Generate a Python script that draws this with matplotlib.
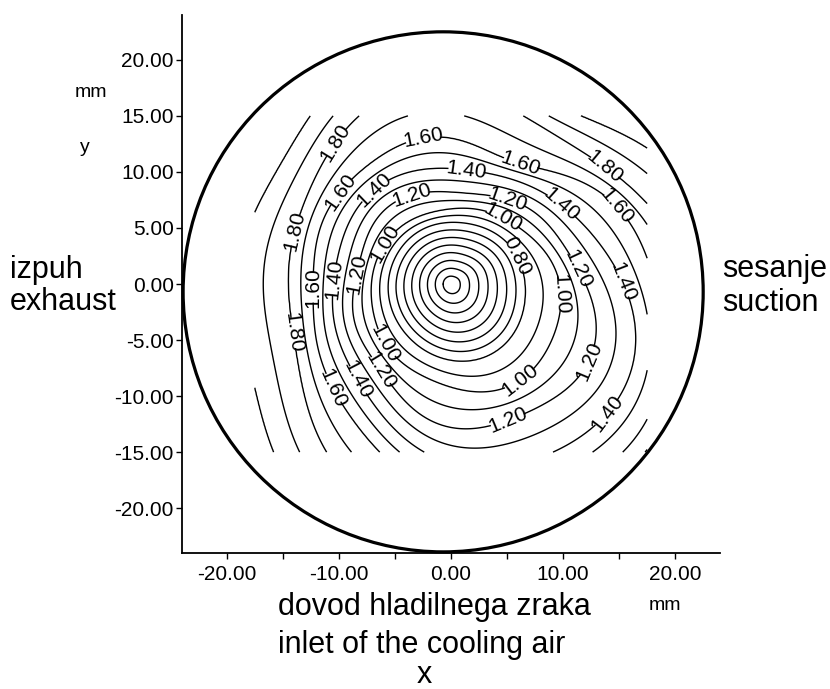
import numpy as np
import matplotlib
matplotlib.use("Agg")
import matplotlib.pyplot as plt
from matplotlib.patches import Circle

plt.rcParams['font.family'] = ['Liberation Sans', 'DejaVu Sans']

angles_deg = [0, 30, 60, 90, 120, 150, 180, 210, 240, 270, 300, 330]
center_value = 0.0
r_040 = [3.3, 3.2, 2.9, 2.8, 2.8, 2.8, 2.8, 2.9, 3.1, 3.4, 3.6, 3.5]
r_080 = [6.6, 6.3, 5.8, 5.5, 5.5, 5.5, 5.6, 5.8, 6.2, 6.8, 7.2, 7.0]
r_100 = [9.7, 8.3, 7.3, 6.7, 6.7, 6.9, 7.1, 7.6, 8.3, 9.2, 10.5, 10.3]
r_120 = [12.0, 10.2, 8.9, 8.2, 8.8, 8.6, 8.6, 9.4, 10.5, 12.8, 13.3, 14.1]
r_140 = [15.4, 12.5, 10.8, 10.3, 10.8, 10.6, 10.5, 11.3, 13.0, 16.0, 17.5, 18.0]
r_160 = [18.2, 15.8, 12.4, 13.0, 13.0, 12.8, 12.3, 13.4, 15.5, 19.0, 21.0, 21.0]
r_180 = [21.5, 18.0, 16.2, 17.5, 17.0, 15.0, 14.5, 15.6, 19.5, 22.0, 24.0, 24.0]
r_200 = [25.0, 22.0, 18.5, 20.5, 20.5, 18.5, 19.0, 20.0, 24.0, 25.0, 27.0, 27.0]
r_230 = [33.0] * 12
level_values = [0.4, 0.8, 1.0, 1.2, 1.4, 1.6, 1.8, 2.0, 2.3]
level_radii = [r_040, r_080, r_100, r_120, r_140, r_160, r_180, r_200, r_230]

plain_levels = [0.1, 0.2, 0.3, 0.4, 0.5, 0.6, 0.7, 0.9,
                1.1, 1.3, 1.5, 1.7, 1.9, 2.0]
label_levels = [0.8, 1.0, 1.2, 1.4, 1.6, 1.8]

# where the labels sit in the original (mm)
label_spots = [(5.9, 2.5),
               (9.7, -0.9), (6.3, -8.7), (-5.9, -5.3), (-5.9, 3.6), (4.5, 5.7),
               (11.7, 1.5), (12.3, -6.9), (5.1, -12.3), (-6.3, -7.7),
               (-8.6, 0.9), (-3.7, 8.4), (5.0, 7.4),
               (15.4, 0.2), (14.8, -12.1), (9.7, 6.9), (1.4, 10.5),
               (-6.9, 8.4), (-10.5, 0.4), (-8.4, -8.6),
               (14.3, 6.6), (6.2, 10.8), (-2.5, 13.0), (-10.2, 8.4),
               (-12.3, -0.3), (-10.6, -9.3),
               (13.9, 10.6), (-9.9, 12.4), (-14.1, 4.8), (-14.5, -4.4)]

# cylinder outline (mm)
bore_center = (-0.7, -0.7)
bore_radius = 23.2

x_ticks = [-20, -10, 0, 10, 20]
x_minor = [-15, -5, 5, 15]
y_ticks = [-20, -15, -10, -5, 0, 5, 10, 15, 20]


def radius_at(radii, theta):
    # periodic (trigonometric) interpolation of the read radii over the angle
    n = len(radii)
    c = np.fft.rfft(radii) / n
    out = np.full(theta.shape, c[0].real)
    for k in range(1, len(c)):
        w = 1.0 if (n % 2 == 0 and k == n // 2) else 2.0
        out += w * (c[k].real * np.cos(k * theta) - c[k].imag * np.sin(k * theta))
    return out


gx = np.linspace(-17.5, 17.5, 351)
gy = np.linspace(-15.0, 15.0, 301)
X, Y = np.meshgrid(gx, gy)
R = np.hypot(X, Y)
T = np.mod(np.arctan2(Y, X), 2 * np.pi)

Z = np.zeros_like(R)
prev_r = np.zeros_like(R)
prev_v = center_value
for val, radii in zip(level_values, level_radii):
    cur_r = radius_at(np.array(radii), T)
    m = (R >= prev_r) & (R < cur_r)
    Z[m] = prev_v + (R[m] - prev_r[m]) / (cur_r[m] - prev_r[m]) * (val - prev_v)
    prev_r, prev_v = cur_r, val

W, H = 830, 689
fig = plt.figure(figsize=(W / 100, H / 100), dpi=100)
ax = fig.add_axes([182 / W, 1 - 553 / H, 538 / W, 538 / H])

ax.contour(X, Y, Z, levels=plain_levels, colors='black', linewidths=1.0)
cs = ax.contour(X, Y, Z, levels=label_levels, colors='black', linewidths=1.0)
ax.clabel(cs, fmt='%.2f', fontsize=15, inline=True,
          inline_spacing=4, manual=label_spots)

ax.add_patch(Circle(bore_center, bore_radius, fill=False, lw=2.3, ec='black', clip_on=False))

ax.set_xlim(-24, 24)
ax.set_ylim(-24, 24)
ax.spines['top'].set_visible(False)
ax.spines['right'].set_visible(False)
for s in ('left', 'bottom'):
    ax.spines[s].set_linewidth(1.3)
ax.set_xticks(x_ticks)
ax.set_xticks(x_minor, minor=True)
ax.set_yticks(y_ticks)
ax.set_xticklabels(['%.2f' % v for v in x_ticks])
ax.set_yticklabels(['%.2f' % v for v in y_ticks])
ax.tick_params(which='both', direction='out', length=4, width=1, labelsize=15)
ax.tick_params(axis='x', pad=5)
ax.tick_params(axis='y', pad=2)


def ftext(x, y, s, size, **kw):
    fig.text(x / W, 1 - y / H, s, fontsize=size, va='baseline', **kw)


ftext(10, 278, 'izpuh', 22)
ftext(10, 310, 'exhaust', 22)
ftext(722, 277, 'sesanje', 22)
ftext(722, 311, 'suction', 22)
ftext(91, 97, 'mm', 14, ha='center')
ftext(85, 152, 'y', 14, ha='center')
ftext(278, 615, 'dovod hladilnega zraka', 22)
ftext(278, 653, 'inlet of the cooling air', 22)
ftext(424, 683, 'x', 22, ha='center')
ftext(665, 610, 'mm', 14, ha='center')

fig.savefig('out.png', dpi=100)
